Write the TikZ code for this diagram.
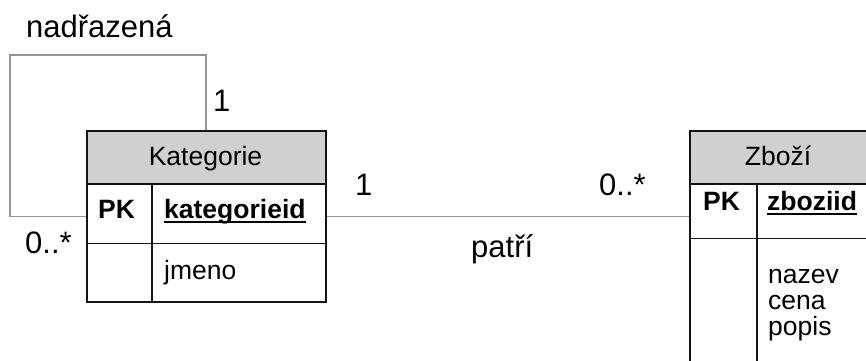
\documentclass[tikz,border=0pt]{standalone}
\usepackage{fontspec}
\setmainfont{Liberation Sans}
\definecolor{hdrgray}{RGB}{208,208,208}
\definecolor{linegray}{RGB}{150,150,150}
\definecolor{frame}{RGB}{20,20,20}
\tikzset{
  tbl/.style={draw=frame, line width=1.6pt, anchor=north west, inner sep=0pt, fill=white},
  hdr/.style={draw=frame, line width=1.6pt, anchor=north west, inner sep=0pt, fill=hdrgray},
  tline/.style={draw=frame, line width=1.6pt},
  uline/.style={draw=black, line width=2pt},
  conn/.style={draw=linegray, line width=1.3pt},
  lbl/.style={anchor=base west, inner sep=0pt, font=\fontsize{31}{36}\selectfont},
  cell/.style={anchor=base west, inner sep=0pt, font=\fontsize{26.5}{31}\selectfont},
  cellb/.style={anchor=base west, inner sep=0pt, font=\fontsize{26.5}{31}\selectfont\bfseries},
  title/.style={anchor=base, inner sep=0pt, font=\fontsize{26.5}{31}\selectfont},
}
\begin{document}
\begin{tikzpicture}[x=1pt,y=-1pt]
\useasboundingbox (0,0) rectangle (866,360);
% Kategorie table
\node[tbl, minimum width=239pt, minimum height=171pt] (kat) at (86,130) {};
\node[hdr, minimum width=239pt, minimum height=53pt] (kath) at (86,130) {};
\draw[tline] ([yshift=-59pt]kath.south west) -- ([yshift=-59pt]kath.south east);
\draw[tline] ([xshift=66pt]kath.south west) -- ([xshift=66pt]kat.south west);
% Zbozi table
\node[tbl, minimum width=180pt, minimum height=245pt] (zbo) at (689,130) {};
\node[hdr, minimum width=180pt, minimum height=53pt] (zboh) at (689,130) {};
\draw[tline] ([yshift=-54pt]zboh.south west) -- ([yshift=-54pt]zboh.south east);
\draw[tline] ([xshift=68pt]zboh.south west) -- ([xshift=68pt]zbo.south west);
% texts Kategorie
\node[title] (katt) at (205.5,165) {Kategorie};
\node[cellb] (katpk) at (98,218) {PK};
\node[cellb] (katid) at (164,218) {kategorieid};
\draw[uline] ([yshift=-4pt]katid.base west) -- ([yshift=-4pt]katid.base east);
\node[cell] (katjm) at (164,279) {jmeno};
% texts Zbozi
\node[title] (zbot) at (778,165) {Zboží};
\node[cellb] (zbopk) at (703,210) {PK};
\node[cellb] (zboid) at (767,210) {zboziid};
\draw[uline] ([yshift=-4pt]zboid.base west) -- ([yshift=-4pt]zboid.base east);
\node[cell] (zbona) at (768,283) {nazev};
\node[cell] (zboce) at (768,309) {cena};
\node[cell] (zbopo) at (768,335) {popis};
% connectors
\draw[conn] ([xshift=120pt]kat.north west) |- (10,55) |- (kat.west);
\draw[conn] (kat.east) -- (kat.east -| zbo.west);
% labels
\node[lbl] (nadr) at (26,37) {nadřazená};
\node[lbl] (one1) at (213,111) {1};
\node[lbl] (many1) at (25,253) {0..*};
\node[lbl] (one2) at (355,195) {1};
\node[lbl] (many2) at (599,195) {0..*};
\node[lbl] (patri) at (471,257) {patří};
\end{tikzpicture}
\end{document}
